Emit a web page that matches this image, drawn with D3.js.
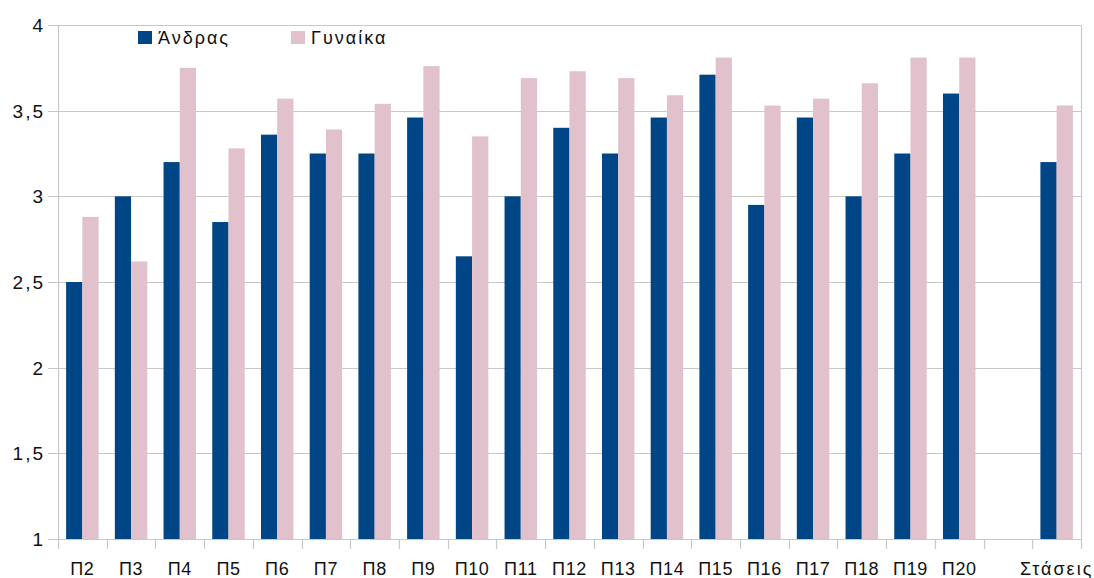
<!DOCTYPE html>
<html>
<head>
<meta charset="utf-8">
<script src="https://cdn.jsdelivr.net/npm/d3@7"></script>
<style>
  body { margin: 0; background: #fff; }
  svg { display: block; font-family: "Liberation Sans", Arial, sans-serif; }
</style>
</head>
<body>
<svg id="chart" width="1094" height="578"></svg>
<script>
// Chart data
const categories = ["Π2","Π3","Π4","Π5","Π6","Π7","Π8","Π9","Π10","Π11","Π12","Π13","Π14","Π15","Π16","Π17","Π18","Π19","Π20","","Στάσεις"];
const seriesNames = ["Άνδρας", "Γυναίκα"];
const andras  = [2.50,3.00,3.20,2.85,3.36,3.25,3.25,3.46,2.65,3.00,3.40,3.25,3.46,3.71,2.95,3.46,3.00,3.25,3.60,null,3.20];
const gynaika = [2.88,2.62,3.75,3.28,3.57,3.39,3.54,3.76,3.35,3.69,3.73,3.69,3.59,3.81,3.53,3.57,3.66,3.81,3.81,null,3.53];
const yTicks = [1,1.5,2,2.5,3,3.5,4];
const colors = ["#004586", "#e0c1cc"];

// Layout
const margin = {top: 25, right: 13, bottom: 39, left: 58};
const svg = d3.select("#chart");
const width = +svg.attr("width") - margin.left - margin.right;
const height = +svg.attr("height") - margin.top - margin.bottom;
const g = svg.append("g").attr("transform", `translate(${margin.left},${margin.top})`);

const x = d3.scaleBand().domain(d3.range(categories.length)).range([0, width]);
// two bars of a third of the band each, centred
const barW = x.bandwidth() / 3;
const y = d3.scaleLinear().domain([1, 4]).range([height, 0]);

const fmt = d => String(d).replace(".", ",");

// Gridlines
g.append("g")
  .selectAll("line")
  .data(yTicks)
  .join("line")
  .attr("x1", -10)
  .attr("x2", width)
  .attr("y1", d => Math.round(y(d)) + 0.5)
  .attr("y2", d => Math.round(y(d)) + 0.5)
  .attr("stroke", "#c8c8c8")
  .attr("stroke-width", 1.2);

// Y labels
g.append("g")
  .selectAll("text")
  .data(yTicks)
  .join("text")
  .attr("x", -13)
  .attr("y", d => y(d))
  .attr("dy", "0.36em")
  .attr("text-anchor", "end")
  .attr("font-size", "19px")
  .attr("letter-spacing", "2px")
  .attr("fill", "#111")
  .text(fmt);

// Bars
const seriesData = [andras, gynaika];
seriesData.forEach((vals, s) => {
  g.append("g")
    .selectAll("rect")
    .data(vals.map((v, i) => ({v, i})).filter(d => d.v != null))
    .join("rect")
    .attr("x", d => x(d.i) + barW / 2 + s * barW)
    .attr("y", d => y(d.v))
    .attr("width", barW)
    .attr("height", d => height - y(d.v))
    .attr("fill", colors[s]);
});

// Axis frame lines
g.append("line")
  .attr("x1", 0.5).attr("x2", 0.5).attr("y1", 0).attr("y2", height + 10)
  .attr("stroke", "#c8c8c8").attr("stroke-width", 1.2);
g.append("line")
  .attr("x1", width + 0.5).attr("x2", width + 0.5).attr("y1", 0).attr("y2", height + 10)
  .attr("stroke", "#c8c8c8").attr("stroke-width", 1.2);

// X ticks and labels
g.append("g")
  .selectAll("line")
  .data(d3.range(1, categories.length))
  .join("line")
  .attr("x1", d => Math.round(x(d)) + 0.5)
  .attr("x2", d => Math.round(x(d)) + 0.5)
  .attr("y1", height)
  .attr("y2", height + 10)
  .attr("stroke", "#c8c8c8")
  .attr("stroke-width", 1.2);

g.append("g")
  .selectAll("text")
  .data(categories)
  .join("text")
  .attr("x", (d, i) => x(i) + x.bandwidth() / 2)
  .attr("y", height + 36)
  .attr("text-anchor", "middle")
  .attr("font-size", "18px")
  .attr("letter-spacing", d => d.length > 3 ? "2px" : "0.6px")
  .attr("fill", "#111")
  .text(d => d);

// Legend
const legendPos = [138, 291];
const legend = svg.append("g");
seriesNames.forEach((name, s) => {
  legend.append("rect")
    .attr("x", legendPos[s]).attr("y", 31)
    .attr("width", 14).attr("height", 13)
    .attr("fill", colors[s]);
  legend.append("text")
    .attr("x", legendPos[s] + 20).attr("y", 44)
    .attr("font-size", "18px")
    .attr("letter-spacing", "2px")
    .attr("fill", "#111")
    .text(name);
});
</script>
</body>
</html>
